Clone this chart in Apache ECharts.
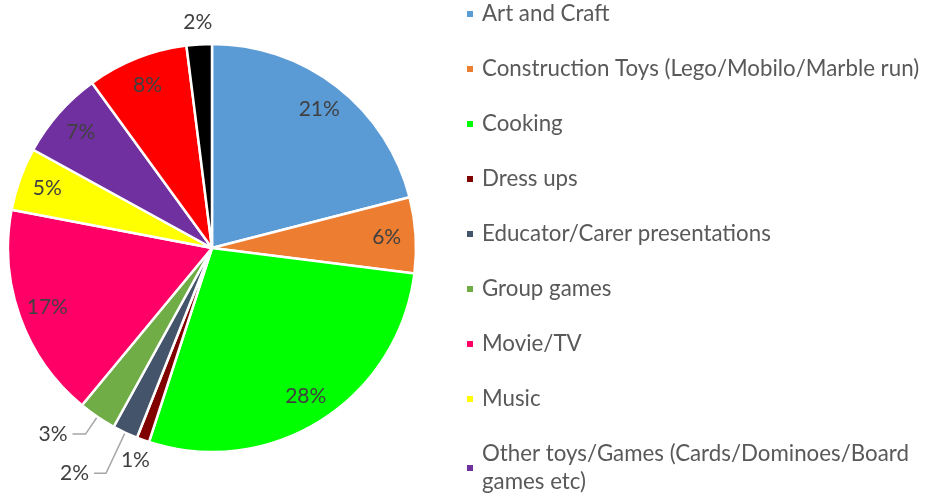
<!DOCTYPE html>
<html>
<head>
<meta charset="utf-8">
<script src="https://cdn.jsdelivr.net/npm/echarts@6/dist/echarts.min.js"></script>
<style>
  html, body { margin: 0; padding: 0; background: #fff; }
  #chart { width: 926px; height: 500px; }
</style>
</head>
<body>
<div id="chart"></div>
<script>
// slices, clockwise from 12 o'clock
const categories = [
  'Art and Craft',
  'Construction Toys (Lego/Mobilo/Marble run)',
  'Cooking',
  'Dress ups',
  'Educator/Carer presentations',
  'Group games',
  'Movie/TV',
  'Music',
  'Other toys/Games (Cards/Dominoes/Board games etc)',
  'Outdoor play',
  'Puzzles'
]
const shares = [21, 6, 28, 1, 2, 3, 17, 5, 7, 8, 2]
const colors = ['#5B9BD5', '#ED7D31', '#00FF00', '#800000', '#44546A', '#70AD47',
  '#FF0066', '#FFFF00', '#7030A0', '#FF0000', '#000000']
// the last two legend entries fall below the bottom of the picture
const legendNames = categories.slice(0, 9)
// labels that sit just outside the pie, and the ones with a leader line
const outerLabelled = ['Dress ups', 'Puzzles']
const lineLabelled = { 'Educator/Carer presentations': [45, 12], 'Group games': [21, 13] }

const FONT = 'Lato'
const center = [212, 248]

const chart = echarts.init(document.getElementById('chart'))

// the real slices
const slices = categories.map((name, i) => {
  const item = { name, value: shares[i], itemStyle: { color: colors[i] } }
  if (lineLabelled[name]) {
    item.label = { show: true }
    item.labelLine = { show: true, length: lineLabelled[name][0], length2: lineLabelled[name][1] }
  }
  return item
})

// transparent rings that only carry the percentage texts
function labelRing (radius, pick) {
  return {
    type: 'pie',
    silent: true,
    legendHoverLink: false,
    center,
    radius,
    startAngle: 90,
    avoidLabelOverlap: false,
    itemStyle: { color: 'rgba(0,0,0,0)', borderWidth: 0 },
    emphasis: { disabled: true },
    labelLine: { show: false },
    label: {
      position: 'inside',
      formatter: '{c}%',
      color: '#404040',
      fontFamily: FONT,
      fontSize: 21
    },
    data: categories.map((name, i) => ({
      name,
      value: shares[i],
      label: { show: pick(name) }
    }))
  }
}

chart.setOption({
  animation: false,
  backgroundColor: '#fff',
  legend: {
    orient: 'vertical',
    left: 465,
    top: 0,
    height: 600,
    padding: 0,
    itemGap: 27,
    itemWidth: 8,
    itemHeight: 8,
    icon: 'rect',
    selectedMode: false,
    textStyle: {
      color: '#595959',
      fontFamily: FONT,
      fontSize: 22.3,
      lineHeight: 28,
      padding: [0, 0, 0, 3]
    },
    formatter: name => name === categories[8]
      ? 'Other toys/Games (Cards/Dominoes/Board\ngames etc)'
      : name,
    data: legendNames.map(name => ({
      name,
      itemStyle: { color: colors[categories.indexOf(name)] }
    }))
  },
  series: [
    {
      type: 'pie',
      center,
      radius: 204,
      startAngle: 90,
      clockwise: true,
      avoidLabelOverlap: false,
      itemStyle: { borderColor: '#fff', borderWidth: 2.5 },
      emphasis: { disabled: true },
      label: {
        show: false,
        position: 'outside',
        formatter: '{c}%',
        color: '#404040',
        fontFamily: FONT,
        fontSize: 21
      },
      labelLine: { show: false, lineStyle: { color: '#A6A6A6', width: 1.5 } },
      data: slices
    },
    labelRing([152, 192], name => !outerLabelled.includes(name) && !lineLabelled[name]),
    labelRing([212, 234], name => outerLabelled.includes(name))
  ]
})
</script>
</body>
</html>
